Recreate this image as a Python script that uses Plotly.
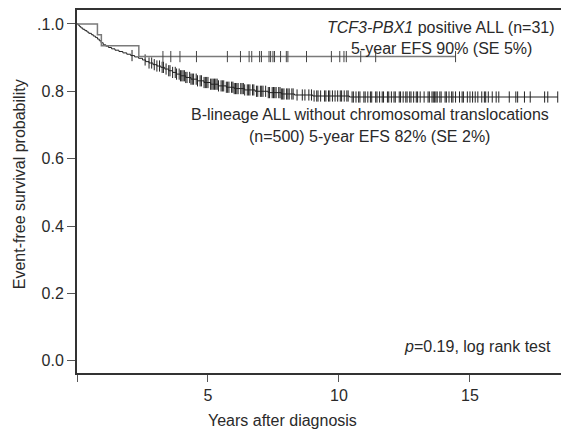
import numpy as np
import plotly.graph_objects as go

# ---- data ----
# TCF3-PBX1 positive ALL (n=31): step function (years, survival)
tcf_time = [0.0, 0.78, 0.93, 2.36, 14.45]
tcf_surv = [1.0, 0.968, 0.935, 0.903, 0.903]
tcf_censor = [3.28, 3.58, 3.93, 4.56, 5.74, 6.24, 6.57, 6.67, 6.97, 7.04, 7.33,
              7.39, 7.48, 7.54, 7.77, 7.99, 8.05, 8.76, 9.71, 10.03, 10.19,
              10.28, 10.83, 11.40, 14.45]

# B-lineage ALL without chromosomal translocations (n=500)
b_time = [0, 0.05, 0.1, 0.15, 0.22, 0.3, 0.38, 0.45, 0.55, 0.62, 0.7, 0.78,
          0.85, 0.92, 1.0, 1.1, 1.2, 1.32, 1.45, 1.6, 1.75, 1.9, 2.05, 2.2,
          2.35, 2.5, 2.62, 2.75, 2.9, 3.05, 3.2, 3.35, 3.5, 3.65, 3.8, 3.95,
          4.15, 4.35, 4.6, 4.85, 5.1, 5.4, 5.7, 6.0, 6.4, 6.8, 7.3, 7.8, 8.3,
          9.0, 10.4, 18.35]
b_surv = [1.0, 0.996, 0.992, 0.988, 0.984, 0.980, 0.976, 0.972, 0.968, 0.964,
          0.960, 0.955, 0.950, 0.944, 0.938, 0.934, 0.930, 0.926, 0.922, 0.918,
          0.914, 0.910, 0.906, 0.902, 0.898, 0.893, 0.888, 0.884, 0.879, 0.875,
          0.871, 0.866, 0.861, 0.856, 0.851, 0.846, 0.841, 0.836, 0.831, 0.826,
          0.821, 0.816, 0.812, 0.808, 0.804, 0.800, 0.796, 0.792, 0.789, 0.786,
          0.783, 0.783]
b_censor = [2.1, 2.6, 2.75, 2.85, 2.95, 3.05, 3.15, 3.25, 3.3, 3.4, 3.5, 3.55,
            3.65, 3.75, 3.8, 3.9, 3.95, 4.0, 4.05, 4.1, 4.15, 4.2, 4.3, 4.35,
            4.4, 4.45, 4.55, 4.6, 4.7, 4.75, 4.85, 4.9, 4.95, 5.0, 5.1, 5.15,
            5.2, 5.25, 5.3, 5.35, 5.4, 5.5, 5.55, 5.6, 5.7, 5.75, 5.8, 5.9,
            5.95, 6.0, 6.05, 6.1, 6.15, 6.25, 6.3, 6.35, 6.4, 6.5, 6.55, 6.6,
            6.7, 6.75, 6.85, 6.9, 7.0, 7.05, 7.1, 7.2, 7.3, 7.35, 7.45, 7.5,
            7.55, 7.6, 7.7, 7.75, 7.8, 7.85, 7.9, 8.0, 8.05, 8.1, 8.2, 8.25,
            8.4, 8.6, 8.7, 8.85, 8.95, 9.05, 9.15, 9.2, 9.3, 9.45, 9.5, 9.6,
            9.65, 9.75, 9.85, 9.95, 10.05, 10.1, 10.2, 10.3, 10.35, 10.5,
            10.55, 10.65, 10.75, 10.8, 10.95, 11.0, 11.1, 11.2, 11.25, 11.4,
            11.45, 11.55, 11.65, 11.7, 11.85, 11.9, 12.0, 12.1, 12.15, 12.3,
            12.35, 12.45, 12.55, 12.6, 12.7, 12.75, 12.85, 12.95, 13.0, 13.1,
            13.25, 13.4, 13.45, 13.55, 13.6, 13.65, 13.7, 13.75, 13.85, 13.9,
            14.05, 14.1, 14.2, 14.3, 14.35, 14.45, 14.6, 14.7, 14.75, 14.9,
            15.0, 15.1, 15.2, 15.3, 15.45, 15.55, 15.6, 15.7, 15.85, 16.0,
            16.1, 16.5, 16.75, 16.82, 17.08, 17.3, 17.85, 17.97, 18.35]

x_tickvals = [0, 5, 10, 15]
x_ticktext = ["", "5", "10", "15"]
y_tickvals = [0.0, 0.2, 0.4, 0.6, 0.8, 1.0]
y_ticktext = ["0.0", "0.2", "0.4", "0.6", "0.8", ".1.0"]


def step_at(times, surv, t):
    idx = np.searchsorted(np.asarray(times), t, side="right") - 1
    return float(np.asarray(surv)[idx])


FONT = "Liberation Sans, Arial, sans-serif"
FS = 16
TXT = "#2a2a2a"

fig = go.Figure()
fig.add_trace(go.Scatter(x=b_time, y=b_surv, mode="lines", line_shape="hv",
                         line=dict(color="#222222", width=1), hoverinfo="skip"))
fig.add_trace(go.Scatter(x=b_censor, y=[step_at(b_time, b_surv, t) for t in b_censor],
                         mode="markers",
                         marker=dict(symbol="line-ns", size=8,
                                     line=dict(color="#222222", width=1)),
                         hoverinfo="skip"))
fig.add_trace(go.Scatter(x=tcf_time, y=tcf_surv, mode="lines", line_shape="hv",
                         line=dict(color="#7a7a7a", width=1.5), hoverinfo="skip"))
fig.add_trace(go.Scatter(x=tcf_censor, y=[step_at(tcf_time, tcf_surv, t) for t in tcf_censor],
                         mode="markers",
                         marker=dict(symbol="line-ns", size=8,
                                     line=dict(color="#444444", width=1)),
                         hoverinfo="skip"))

ann = [
    dict(x=13.9, y=0.988, text="<i>TCF3-PBX1</i> positive ALL (n=31)", xanchor="center"),
    dict(x=13.9, y=0.926, text="5-year EFS 90% (SE 5%)", xanchor="center"),
    dict(x=11.17, y=0.731, text="B-lineage ALL without chromosomal translocations", xanchor="center"),
    dict(x=11.17, y=0.666, text="(n=500) 5-year EFS 82% (SE 2%)", xanchor="center"),
    dict(x=18.16, y=0.043, text="<i>p</i>=0.19, log rank test", xanchor="right"),
]
annotations = []
for a in ann:
    a.update(xref="x", yref="y", yanchor="middle", showarrow=False,
             font=dict(family=FONT, size=FS, color=TXT))
    annotations.append(a)
annotations.append(dict(xref="x", yref="paper", x=7.83, y=0, yshift=-47,
                        xanchor="center", yanchor="middle", showarrow=False,
                        text="Years after diagnosis",
                        font=dict(family=FONT, size=FS, color=TXT)))
annotations.append(dict(xref="paper", yref="paper", x=0, y=0.52, xshift=-58,
                        xanchor="center", yanchor="middle", textangle=-90,
                        showarrow=False, text="Event-free survival probability",
                        font=dict(family=FONT, size=FS, color=TXT)))

# the page body adds an 8px offset, so the figure is 8px smaller and shifted
fig.update_layout(
    width=561, height=421,
    margin=dict(l=69, r=0, t=0, b=56),
    paper_bgcolor="white", plot_bgcolor="white",
    showlegend=False,
    font=dict(family=FONT, size=FS, color=TXT),
    annotations=annotations,
    xaxis=dict(range=[0, 18.78], tickvals=x_tickvals, ticktext=x_ticktext,
               showgrid=False, zeroline=False, showline=True, linecolor="#333333",
               linewidth=2, mirror=True, ticks="outside", ticklen=7,
               tickcolor="#555555", tickwidth=1,
               tickfont=dict(family=FONT, size=FS, color=TXT)),
    yaxis=dict(range=[-0.0363, 1.0413], tickvals=y_tickvals, ticktext=y_ticktext,
               showgrid=False, zeroline=False, showline=True, linecolor="#333333",
               linewidth=2, ticks="outside", ticklen=8, tickcolor="#555555",
               tickwidth=1, tickfont=dict(family=FONT, size=FS, color=TXT)),
)

fig.write_html("out.html")
